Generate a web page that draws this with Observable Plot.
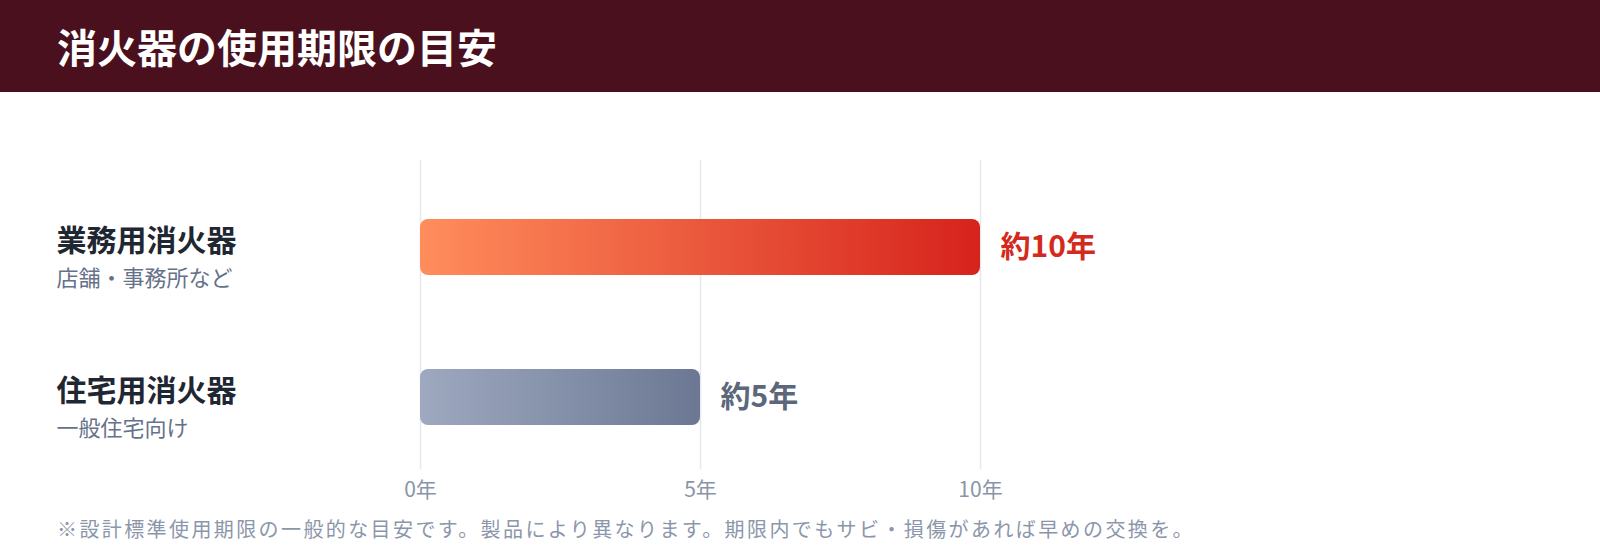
<!DOCTYPE html>
<html><head><meta charset="utf-8">
<script src="https://cdn.jsdelivr.net/npm/d3@7"></script>
<script src="https://cdn.jsdelivr.net/npm/@observablehq/plot@0.6"></script>
<style>
html,body{margin:0;padding:0;background:#fff;overflow:hidden;}
body{font-family:"Noto Sans CJK JP","Noto Sans",sans-serif;width:1600px;height:560px;}
#header{height:92px;background:#4a101e;color:#fff;font-size:40px;font-weight:700;line-height:92px;padding-left:57px;box-sizing:border-box;}
#caption{margin-top:11px;padding-left:57px;font-size:20px;line-height:26px;letter-spacing:2.4px;color:#8c96aa;white-space:nowrap;}
</style></head><body>
<div id="header">消火器の使用期限の目安</div>
<div id="chart"></div>
<div id="caption">※設計標準使用期限の一般的な目安です。製品により異なります。期限内でもサビ・損傷があれば早めの交換を。</div>
<script>
const categories = ["業務用消火器", "住宅用消火器"];
const subtitles = ["店舗・事務所など", "一般住宅向け"];
const years = [10, 5];
const valueLabels = ["約10年", "約5年"];
const tickValues = [0, 5, 10];
const tickLabels = ["0年", "5年", "10年"];

const colors = {
  proLabel: "#d42a1e",
  homeLabel: "#5c677b",
  proGrad: ["#ff8d5c", "#d6231c"],
  homeGrad: ["#9ea9c0", "#6c7893"]
};

const data = categories.map((c, i) => ({name: c, sub: subtitles[i], years: years[i], label: valueLabels[i]}));
const fmt = d => tickLabels[tickValues.indexOf(d)];

const plot = Plot.plot({
  width: 1600,
  height: 413,
  marginLeft: 420,
  marginRight: 620,
  marginTop: 68,
  marginBottom: 36,
  style: {fontFamily: '"Noto Sans CJK JP", "Noto Sans", sans-serif', background: "transparent", overflow: "visible"},
  x: {domain: [0, 10], label: null},
  y: {domain: categories, paddingInner: 0.6267, paddingOuter: 0.3433, align: 0.573, axis: null},
  marks: [
    Plot.gridX(tickValues, {stroke: "#e5e8ee", strokeOpacity: 1, strokeWidth: 1.5}),
    Plot.axisX(tickValues, {tickSize: 0, tickPadding: 13, fontSize: 21, color: "#8a94a8", tickFormat: fmt, label: null}),
    Plot.barX(data.slice(0, 1), {x: "years", y: "name", fill: "url(#gradPro)", rx: 8}),
    Plot.barX(data.slice(1, 2), {x: "years", y: "name", fill: "url(#gradHome)", rx: 8}),
    Plot.text(data.slice(0, 1), {x: "years", y: "name", text: "label", dx: 20, textAnchor: "start", fill: colors.proLabel, fontSize: 30, fontWeight: "bold"}),
    Plot.text(data.slice(1, 2), {x: "years", y: "name", text: "label", dx: 20, textAnchor: "start", fill: colors.homeLabel, fontSize: 30, fontWeight: "bold"}),
    Plot.text(data, {y: "name", text: "name", frameAnchor: "left", textAnchor: "start", dx: -364, dy: -6, fontSize: 30, fontWeight: "bold", fill: "#1f2733"}),
    Plot.text(data, {y: "name", text: "sub", frameAnchor: "left", textAnchor: "start", dx: -364, dy: 31, fontSize: 22, fill: "#66718a"})
  ]
});

const defs = d3.select(plot).insert("defs", ":first-child");
function grad(id, stops) {
  const g = defs.append("linearGradient").attr("id", id).attr("x1", "0").attr("x2", "1").attr("y1", "0").attr("y2", "0");
  g.append("stop").attr("offset", "0%").attr("stop-color", stops[0]);
  g.append("stop").attr("offset", "100%").attr("stop-color", stops[1]);
}
grad("gradPro", colors.proGrad);
grad("gradHome", colors.homeGrad);

document.getElementById("chart").appendChild(plot);
</script>
</body></html>
